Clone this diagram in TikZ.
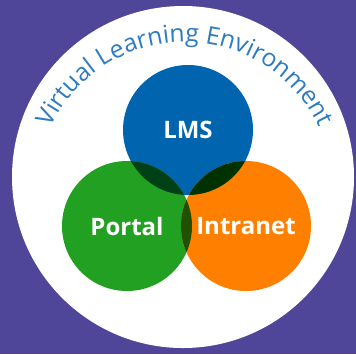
\documentclass[tikz,border=0pt]{standalone}
\usepackage{fontspec}
\setmainfont{Open Sans}
\usetikzlibrary{decorations.text}
\definecolor{vlebg}{HTML}{4F4599}
\definecolor{vletext}{HTML}{2D7CC1}
\definecolor{lmsblue}{HTML}{0064AE}
\definecolor{portalgreen}{HTML}{22A022}
\definecolor{intraorange}{HTML}{FF8000}
\definecolor{lmsportal}{HTML}{004017}
\definecolor{lmsintra}{HTML}{003200}
\definecolor{portalintra}{HTML}{225000}
\tikzset{every picture/.style={line width=0.75pt}}

\begin{document}
\begin{tikzpicture}[x=0.75pt,y=0.75pt,yscale=-1,xscale=1,
  vlelabel/.style={text=white,font=\bfseries\fontsize{18}{20}\selectfont}]
\useasboundingbox (0,0) rectangle (356,354);
%Shape: Rectangle [background]
\fill[vlebg] (0,0) rectangle (356,354);
%Shape: Circle [white disc]
\fill[white] (183,177) circle (171);
% centres
\coordinate (lmsc) at (188,130);
\coordinate (portalc) at (127,226);
\coordinate (intrac) at (246,226);
%Shape: Circle [LMS]
\fill[lmsblue] (lmsc) circle (65);
%Shape: Circle [Portal]
\fill[portalgreen] (portalc) circle (65);
%Shape: Circle [Intranet]
\fill[intraorange] (intrac) circle (65);
%Shape: overlaps
\begin{scope}
\clip (lmsc) circle (65);
\fill[lmsportal] (portalc) circle (65);
\fill[lmsintra] (intrac) circle (65);
\end{scope}
\begin{scope}
\clip (portalc) circle (65);
\fill[portalintra] (intrac) circle (65);
\end{scope}
% Text Node
\node[vlelabel] (lms) at (lmsc) {LMS};
% Text Node
\node[vlelabel] (portal) at (portalc) {Portal};
% Text Node
\node[vlelabel] (intra) at (intrac) {Intranet};
% Curved title
\path[decorate,decoration={text along path,text align=center,
  text={|\color{vletext}\fontsize{18.5}{22}\selectfont|Virtual Learning Environment}}]
  (185,190) ++(-162:148) arc[start angle=-162,end angle=-18,radius=148];
\end{tikzpicture}
\end{document}
